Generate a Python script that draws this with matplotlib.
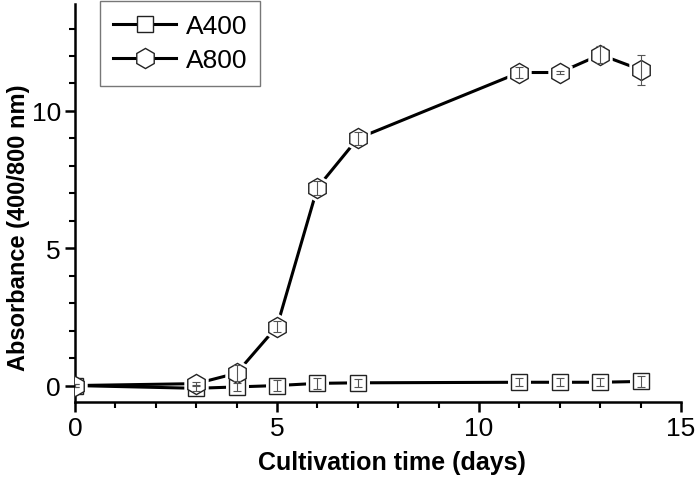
import matplotlib
matplotlib.use("Agg")
import matplotlib.pyplot as plt
from matplotlib.ticker import MultipleLocator

plt.rcParams['font.family'] = ['Liberation Sans', 'DejaVu Sans']

days = [0, 3, 4, 5, 6, 7, 11, 12, 13, 14]
a400 = [0.0, -0.1, -0.05, 0.0, 0.08, 0.1, 0.12, 0.12, 0.12, 0.15]
a400_err = [0.05, 0.1, 0.15, 0.2, 0.2, 0.15, 0.15, 0.15, 0.15, 0.2]
a800 = [0.0, 0.07, 0.45, 2.15, 7.2, 9.0, 11.4, 11.4, 12.05, 11.5]
a800_err = [0.05, 0.05, 0.3, 0.2, 0.25, 0.25, 0.2, 0.05, 0.3, 0.55]

fig = plt.figure(figsize=(7, 4.85), dpi=100)
ax = fig.add_axes([0.107, 0.169, 0.866, 0.821])

styles = [('s', 11, a400, a400_err, 'A400'), ('h', 14.5, a800, a800_err, 'A800')]
for mk, ms, vals, errs, lab in styles:
    ax.plot(days, vals, '-', color='black', lw=2.2, zorder=2)
    # white halo to create the gap between line and marker
    ax.plot(days, vals, ls='none', marker=mk, ms=ms, mfc='white', mec='white',
            mew=5, zorder=2.5)
    ax.plot(days, vals, ls='none', marker=mk, ms=ms, mfc='white', mec='#222222',
            mew=1.0, zorder=3)
    ax.errorbar(days, vals, yerr=errs, fmt='none', ecolor='#555555',
                elinewidth=0.8, capsize=3, capthick=0.8, zorder=4)

# legend proxies
h400, = ax.plot([], [], '-', color='black', lw=2.2, marker='s', ms=11,
                mfc='white', mec='#222222', mew=1.0, label='A400')
h800, = ax.plot([], [], '-', color='black', lw=2.2, marker='h', ms=14.5,
                mfc='white', mec='#222222', mew=1.0, label='A800')

ax.set_xlim(0, 15)
ax.set_ylim(-0.6, 13.9)
ax.xaxis.set_major_locator(MultipleLocator(5))
ax.xaxis.set_minor_locator(MultipleLocator(1))
ax.yaxis.set_major_locator(MultipleLocator(5))
ax.yaxis.set_minor_locator(MultipleLocator(1))

for s in ['top', 'right']:
    ax.spines[s].set_visible(False)
for s in ['left', 'bottom']:
    ax.spines[s].set_linewidth(1.8)

ax.tick_params(which='major', direction='out', length=7, width=1.8,
               labelsize=19, pad=3)
ax.tick_params(which='minor', direction='out', length=4, width=1.5)

ax.set_xlabel('Cultivation time (days)', fontsize=18, fontweight='bold', labelpad=7)
ax.set_ylabel('Absorbance (400/800 nm)', fontsize=17, fontweight='bold', labelpad=1)
ax.xaxis.label.set_x(0.523)
ax.yaxis.label.set_y(0.44)

leg = ax.legend(handles=[h400, h800], loc='upper left',
                bbox_to_anchor=(0.041, 1.008), borderaxespad=0, fontsize=19,
                frameon=True, fancybox=False, edgecolor='#555555',
                handlelength=2.4, handletextpad=0.35, borderpad=0.5,
                labelspacing=0.4)
leg.get_frame().set_linewidth(1.0)

fig.savefig('out.png', dpi=100)
